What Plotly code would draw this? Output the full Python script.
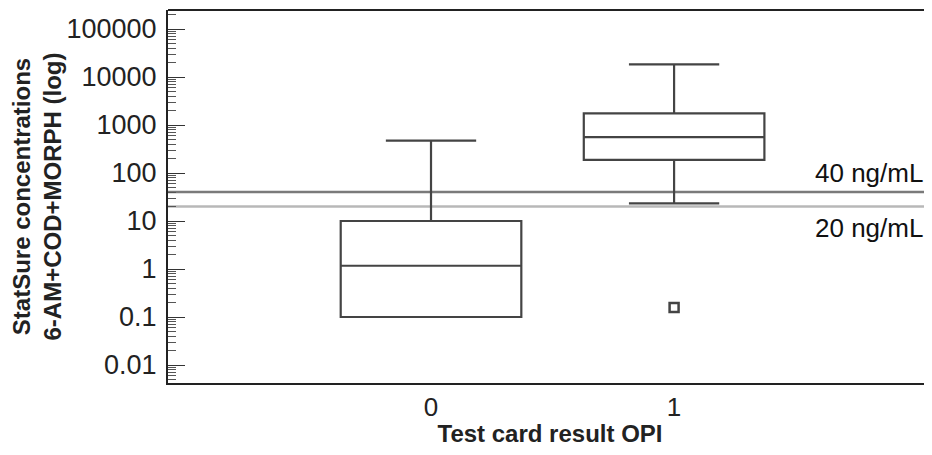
import plotly.graph_objects as go
import numpy as np

categories = [0, 1]
q1 = [0.1, 187]
median = [1.17, 560]
q3 = [10, 1750]
lower_whisker = [0.1, 23.4]
upper_whisker = [471, 18400]
outlier_x = [1]
outlier_y = [0.158]
cutoffs = [40, 20]
cutoff_labels = ["40 ng/mL", "20 ng/mL"]
y_tickvals = [0.01, 0.1, 1, 10, 100, 1000, 10000, 100000]
y_ticktext = ["0.01", "0.1", "1", "10", "100", "1000", "10000", "100000"]

FONT = "Liberation Sans"
box_col = "#444444"

fig = go.Figure()
for i, c in enumerate(categories):
    fig.add_trace(go.Box(
        x=[c], q1=[q1[i]], median=[median[i]], q3=[q3[i]],
        lowerfence=[lower_whisker[i]], upperfence=[upper_whisker[i]],
        width=0.743, whiskerwidth=0.5,
        line=dict(color=box_col, width=2.2),
        fillcolor="rgba(0,0,0,0)", boxpoints=False, showlegend=False,
        hoverinfo="skip",
    ))

fig.add_trace(go.Scatter(
    x=outlier_x, y=outlier_y, mode="markers",
    marker=dict(symbol="square-open", size=9, color=box_col, line=dict(width=2.5, color=box_col)),
    showlegend=False,
))

line_cols = ["#7a7a7a", "#b8b8b8"]
for v, col in zip(cutoffs, line_cols):
    fig.add_shape(type="line", xref="paper", x0=0, x1=1, yref="y", y0=v, y1=v,
                  line=dict(color=col, width=2.5), layer="below")

# top frame line
fig.add_shape(type="line", xref="paper", x0=0, x1=1, yref="paper", y0=1, y1=1,
              line=dict(color="#222222", width=2))

label_ylog = [2.0, 0.854]
for txt, yl in zip(cutoff_labels, label_ylog):
    fig.add_annotation(text=txt, xref="x", x=2.032, xanchor="right",
                       yref="y", y=yl, yanchor="middle", showarrow=False,
                       font=dict(family=FONT, size=26, color="#111111"))

fig.update_layout(
    width=924, height=439,
    margin=dict(l=154, r=0, t=2, b=64),
    paper_bgcolor="white", plot_bgcolor="white",
    font=dict(family=FONT, color="#222222"),
    xaxis=dict(
        range=[-1.082, 2.061], tickvals=categories, ticktext=[str(c) for c in categories],
        showline=True, linecolor="#222222", linewidth=2, mirror=False,
        ticks="", showgrid=False, zeroline=False,
        tickfont=dict(family=FONT, size=26, color="#222222"),
        title=dict(text="<b>Test card result OPI</b>", font=dict(family=FONT, size=24, color="#222222"), standoff=1),
    ),
    yaxis=dict(
        type="log", range=[-2.375, 5.396],
        tickvals=y_tickvals, ticktext=y_ticktext,
        showline=True, linecolor="#222222", linewidth=2, mirror=False,
        ticks="inside", ticklen=17, tickwidth=1.3, tickcolor="#333333",
        minor=dict(ticks="inside", ticklen=8, tickwidth=1, tickcolor="#555555", dtick="D1", showgrid=False),
        showgrid=False, zeroline=False, ticklabelstandoff=4,
        tickfont=dict(family=FONT, size=27, color="#222222"),
        title=dict(text="<b>StatSure concentrations<br>6-AM+COD+MORPH (log)</b>",
                   font=dict(family=FONT, size=24, color="#222222"), standoff=10),
    ),
)

fig.write_html("out.html")
